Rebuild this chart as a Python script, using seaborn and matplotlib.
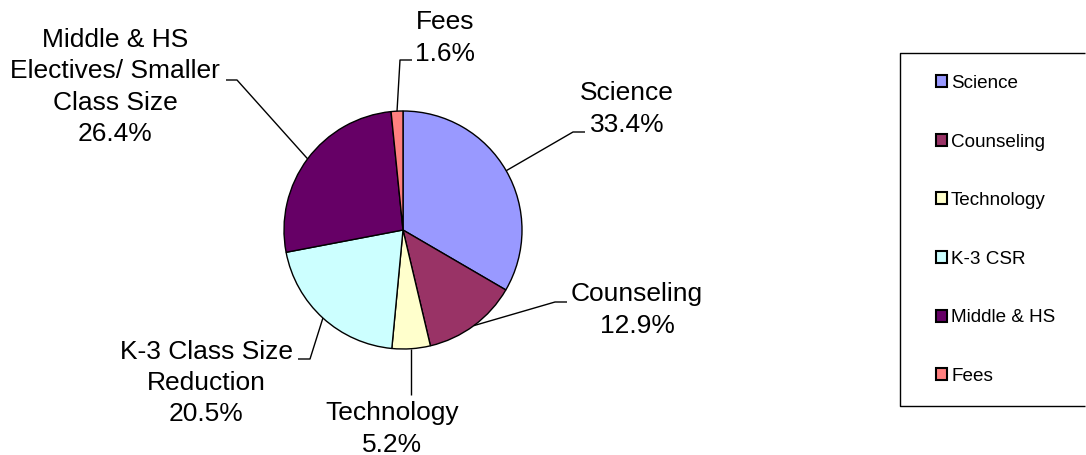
import matplotlib
matplotlib.use("Agg")
import matplotlib.pyplot as plt
import numpy as np
import seaborn as sns

# data (clockwise from 12 o'clock)
legend_labels = ["Science", "Counseling", "Technology", "K-3 CSR", "Middle & HS", "Fees"]
slice_labels = ["Science", "Counseling", "Technology", "K-3 Class Size\nReduction",
                "Middle & HS\nElectives/ Smaller\nClass Size", "Fees"]
shares = [33.4, 12.9, 5.2, 20.5, 26.4, 1.6]
colors = ["#9999FF", "#993366", "#FFFFCC", "#CCFFFF", "#660066", "#FF8080"]

sns.set_theme(style="white")
plt.rcParams['font.family'] = ['Liberation Sans', 'DejaVu Sans']
plt.rcParams['text.color'] = 'black'

W, H = 1086, 455
fig = plt.figure(figsize=(W / 100, H / 100), dpi=100)
ax = fig.add_axes([0, 0, 1, 1])

def px(x, y):
  # pixel coords (y down) -> data coords (y up)
  return x, H - y

center = px(403, 230)
radius = 119

wedges, _ = ax.pie(shares, colors=colors, startangle=90, counterclock=False,
                   center=center, radius=radius,
                   wedgeprops=dict(edgecolor="black", linewidth=1.0))
ax.set_xlim(0, W)
ax.set_ylim(0, H)
ax.set_aspect("equal")
ax.axis("off")

# label layout: text centre, leader elbow, leader end (pixels)
text_pos = [(627, 109), (637, 310), (392, 429), (206, 383), (115, 87), (445, 38)]
leaders = [[(573, 132), (585, 132)],
           [(555, 302), (567, 302)],
           [(None, 395)],
           [(310, 359), (298, 359)],
           [(237, 80), (226, 80)],
           [(400, 60), (412, 60)]]

for w, lab, val, tp, ld in zip(wedges, slice_labels, shares, text_pos, leaders):
  mid = np.deg2rad((w.theta1 + w.theta2) / 2)
  ex = center[0] + radius * np.cos(mid)
  ey = center[1] + radius * np.sin(mid)
  xs, ys = [ex], [ey]
  for (lx, ly) in ld:
    if lx is None:
      lx = ex
    xs.append(lx)
    ys.append(H - ly)
  ax.plot(xs, ys, color="black", linewidth=1.0, solid_capstyle="butt")
  ax.text(*px(*tp), "{}\n{:.1f}%".format(lab, val), ha="center", va="center",
          multialignment="center", fontsize=19, color="black", linespacing=1.37)

# legend frame: top, left, bottom only - it runs off the right edge
fx = [W - 1, 899.5, 899.5, W - 1]
fy = [H - 52.5, H - 52.5, H - 405.5, H - 405.5]
ax.plot(fx, fy, color="black", linewidth=1.0, solid_capstyle="butt", clip_on=False)

leg = fig.legend(wedges, legend_labels, loc="upper left",
                 bbox_to_anchor=(936 / W, 1 - 75 / H), frameon=False,
                 fontsize=13.6, labelspacing=2.2, borderpad=0, borderaxespad=0,
                 handlelength=0.6, handleheight=0.6, handletextpad=0.2)
for t in leg.get_texts():
  t.set_color("black")
for h in leg.legend_handles:
  h.set_edgecolor("black")
  h.set_linewidth(1.5)

fig.savefig("out.png", dpi=100)
